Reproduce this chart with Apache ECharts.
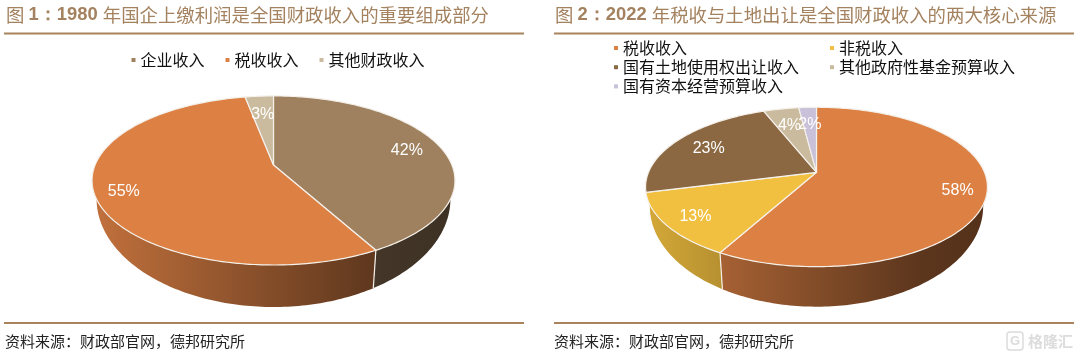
<!DOCTYPE html>
<html>
<head>
<meta charset="utf-8">
<style>
html, body { margin: 0; padding: 0; background: #fff; }
#chart { width: 1080px; height: 357px; }
</style>
<script src="https://cdn.jsdelivr.net/npm/echarts@6/dist/echarts.min.js"></script>
</head>
<body>
<div id="chart"></div>
<script>
var pie1Names = ['企业收入', '税收收入', '其他财政收入'];
var pie1Values = [42, 55, 3];
var pie2Names = ['税收收入', '非税收入', '国有土地使用权出让收入', '其他政府性基金预算收入', '国有资本经营预算收入'];
var pie2Values = [58, 13, 23, 4, 2];

var pie1Colors = ['#9f815f', '#dc8044', '#cbbb9e'];
var pie2Colors = ['#dc8044', '#f2c040', '#8b6842', '#cbbb9e', '#c8c1d9'];

// how far out each percent label sits, as a share of the radius
var pie1LabelR = [0.80, 0.845, 0.724];
var pie2LabelR = [0.834, 0.827, 0.766, 0.73, 0.72];

// perspective disc: cx/cy is where the slices meet, k is the foreshortening
// midY is the middle of the top ellipse, lowY/stretch place the bottom ellipse
var pie1Geo = { cx: 273.5, cy: 165, a: 178.4, b: 81.7, k: 0.183, midY: 180.5, lowY: 199, stretch: 1.278, shrink: 0.975, left: 92, right: 455 };
var pie2Geo = { cx: 816.5, cy: 172.3, a: 168, b: 77, k: 0.184, midY: 187, lowY: 206.7, stretch: 1.255, shrink: 0.975, left: 646, right: 988 };

var labelFont = '"Noto Sans CJK SC", sans-serif';
var latinFont = '"Liberation Sans", Arial, sans-serif';

function project(geo, deg, r) {
    var t = deg * Math.PI / 180;
    var X = Math.sin(t) * r;
    var Y = -Math.cos(t) * r;
    var s = 1 / (1 - geo.k * Y);
    return [geo.cx + geo.a * X * s, geo.cy + geo.b * Y * s];
}

function lower(geo, p) {
    return [geo.cx + (p[0] - geo.cx) * geo.shrink, geo.lowY + (p[1] - geo.midY) * geo.stretch];
}

// angle where the rim is widest, the wall is only seen below it
function sideAngle(geo) {
    var d = geo.midY - geo.cy;
    return Math.acos(-d / (geo.b + geo.k * d)) * 180 / Math.PI;
}

function shade(hex, f) {
    var n = parseInt(hex.slice(1), 16);
    var r = Math.round((n >> 16 & 255) * f);
    var g = Math.round((n >> 8 & 255) * f);
    var b = Math.round((n & 255) * f);
    return 'rgb(' + r + ',' + g + ',' + b + ')';
}

function wallFill(color, geo) {
    return new echarts.graphic.LinearGradient(geo.left, 0, geo.right, 0, [
        { offset: 0, color: shade(color, 0.88) },
        { offset: 0.8, color: shade(color, 0.42) },
        { offset: 1, color: shade(color, 0.38) }
    ], true);
}

function arc(geo, from, to) {
    var pts = [], deg;
    for (deg = from; deg < to; deg += 1) {
        pts.push(project(geo, deg, 1));
    }
    pts.push(project(geo, to, 1));
    return pts;
}

function makeSeries(names, values, colors, labelR, geo) {
    var total = 0;
    values.forEach(function (v) { total += v; });
    var sum = 0;
    return names.map(function (name, i) {
        var start = sum;
        sum += values[i];
        return {
            type: 'custom',
            name: name,
            coordinateSystem: 'none',
            silent: true,
            animation: false,
            itemStyle: { color: colors[i] },
            data: [[values[i], start, total]],
            renderItem: function (params, api) {
                var from = api.value(1) / api.value(2) * 360;
                var to = from + api.value(0) / api.value(2) * 360;
                var top = [[geo.cx, geo.cy]].concat(arc(geo, from, to));
                var mid = project(geo, (from + to) / 2, labelR[i]);
                var kids = [
                    {
                        type: 'polygon', z2: 6, shape: { points: top },
                        style: { fill: colors[i], stroke: '#f4f0ea', lineWidth: 1.2, lineJoin: 'round' }
                    },
                    {
                        type: 'text', z2: 9,
                        style: {
                            x: mid[0], y: mid[1] + 1.5, text: api.value(0) + '%',
                            fill: '#fff', font: '16px ' + latinFont,
                            align: 'center', verticalAlign: 'middle'
                        }
                    }
                ];
                // wall: near side only, a slice ending just under the left edge runs on to the edge
                var lo = sideAngle(geo), hi = 360 - lo;
                var wallFrom = Math.max(from, lo);
                var wallTo = (to > hi - 15) ? hi : to;
                if (from < hi - 15 && wallTo > wallFrom) {
                    var rim = arc(geo, wallFrom, wallTo);
                    var wall = rim.concat(rim.map(function (p) { return lower(geo, p); }).reverse());
                    kids.push({ type: 'polygon', z2: 3, shape: { points: wall }, style: { fill: wallFill(colors[i], geo) } });
                    if (from > lo) {
                        var foot = lower(geo, rim[0]);
                        kids.push({
                            type: 'line', z2: 5,
                            shape: { x1: rim[0][0], y1: rim[0][1], x2: foot[0], y2: foot[1] },
                            style: { stroke: '#f4f0ea', lineWidth: 1.2 }
                        });
                    }
                }
                return { type: 'group', children: kids };
            }
        };
    });
}

function figTitle(left, num, year, rest) {
    return {
        left: left, top: 6, padding: 0,
        text: '{c|图 }{b|' + num + '：' + year + ' }{c|' + rest + '}',
        textStyle: {
            fontWeight: 'normal',
            rich: {
                c: { fontFamily: labelFont, fontWeight: 'normal', fontSize: 18.4, color: '#a4825f' },
                b: { fontFamily: latinFont, fontWeight: 'bold', fontSize: 18.4, color: '#a4825f' }
            }
        }
    };
}

function source(left) {
    return {
        left: left, top: 334, padding: 0,
        text: '资料来源：财政部官网，德邦研究所',
        textStyle: { fontFamily: labelFont, fontSize: 15, fontWeight: 'normal', color: '#222' }
    };
}

function legendBox(names, left, top, orient, gap) {
    return {
        data: names, left: left, top: top, orient: orient, itemGap: gap,
        icon: 'rect', itemWidth: 4, itemHeight: 4, padding: 0, selectedMode: false,
        textStyle: { fontFamily: labelFont, fontSize: 16, color: '#111' }
    };
}

function rule(x1, x2, y) {
    return {
        type: 'line', shape: { x1: x1, y1: y, x2: x2, y2: y },
        style: { stroke: '#a8835e', lineWidth: 2 }
    };
}

var myChart = echarts.init(document.getElementById('chart'), null, { renderer: 'canvas' });
var option = {
    backgroundColor: '#fff',
    animation: false,
    title: [
        figTitle(6, '1', '1980', '年国企上缴利润是全国财政收入的重要组成部分'),
        figTitle(555, '2', '2022', '年税收与土地出让是全国财政收入的两大核心来源'),
        source(5),
        source(554)
    ],
    legend: [
        legendBox(pie1Names, 131.5, 52, 'horizontal', 21),
        legendBox([pie2Names[0], pie2Names[2], pie2Names[4]], 614, 40, 'vertical', 3.2),
        legendBox([pie2Names[1], pie2Names[3]], 830, 40, 'vertical', 3.2)
    ],
    graphic: [
        rule(4, 524, 33.5),
        rule(554, 1074, 33.5),
        rule(4, 524, 323),
        rule(554, 1074, 323),
        {
            type: 'rect', shape: { x: 1007, y: 332, width: 16, height: 18, r: 3 },
            style: { fill: 'none', stroke: '#dcdcdc', lineWidth: 1.5 }
        },
        {
            type: 'text', x: 1015, y: 341,
            style: { text: 'G', fill: '#dcdcdc', font: 'bold 13px ' + latinFont, align: 'center', verticalAlign: 'middle' }
        },
        {
            type: 'text', x: 1028, y: 341,
            style: { text: '格隆汇', fill: '#dcdcdc', font: 'bold 15px ' + labelFont, verticalAlign: 'middle' }
        }
    ],
    series: makeSeries(pie1Names, pie1Values, pie1Colors, pie1LabelR, pie1Geo)
        .concat(makeSeries(pie2Names, pie2Values, pie2Colors, pie2LabelR, pie2Geo))
};
myChart.setOption(option);
</script>
</body>
</html>
